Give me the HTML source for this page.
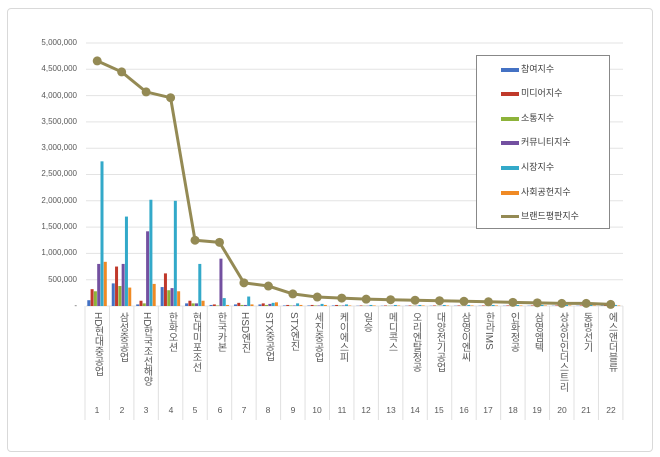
<!DOCTYPE html>
<html><head><meta charset="utf-8"><style>
body{margin:0;width:660px;height:457px;background:#fff;font-family:"Liberation Sans","Noto Sans CJK KR",sans-serif;position:relative;overflow:hidden}
.frame{position:absolute;left:7px;top:8px;width:644px;height:442px;border:1px solid #d9d9d9;border-radius:4px}
.yl{position:absolute;right:583px;font-size:8px;color:#595959;text-align:right;width:70px}
.xl{position:absolute;top:312px;writing-mode:vertical-rl;font-size:10px;color:#595959;line-height:12px;width:12px}
.xn{position:absolute;top:405px;font-size:8.5px;color:#595959;width:24px;text-align:center}
.leg{position:absolute;left:476px;top:55px;width:132px;height:172px;border:1px solid #888;background:#fff}
.li{position:absolute;left:24px;font-size:9px;color:#404040;height:12px;line-height:12px}
.sw{display:inline-block;width:18px;height:4px;vertical-align:middle;margin-right:2px}
</style></head><body>
<div class="frame"></div>
<svg id="s" width="660" height="457" style="position:absolute;left:0;top:0"></svg>
<div class="yl" style="top:38px">5,000,000</div>
<div class="yl" style="top:64px">4,500,000</div>
<div class="yl" style="top:91px">4,000,000</div>
<div class="yl" style="top:117px">3,500,000</div>
<div class="yl" style="top:143px">3,000,000</div>
<div class="yl" style="top:169px">2,500,000</div>
<div class="yl" style="top:196px">2,000,000</div>
<div class="yl" style="top:222px">1,500,000</div>
<div class="yl" style="top:248px">1,000,000</div>
<div class="yl" style="top:275px">500,000</div>
<div class="yl" style="top:301px">-</div>
<div class="xl" style="left:91px">HD현대중공업</div>
<div class="xl" style="left:116px">삼성중공업</div>
<div class="xl" style="left:140px">HD한국조선해양</div>
<div class="xl" style="left:165px">한화오션</div>
<div class="xl" style="left:189px">현대미포조선</div>
<div class="xl" style="left:214px">한국카본</div>
<div class="xl" style="left:238px">HSD엔진</div>
<div class="xl" style="left:262px">STX중공업</div>
<div class="xl" style="left:287px">STX엔진</div>
<div class="xl" style="left:311px">세진중공업</div>
<div class="xl" style="left:336px">케이에스피</div>
<div class="xl" style="left:360px">일승</div>
<div class="xl" style="left:385px">메디콕스</div>
<div class="xl" style="left:409px">오리엔탈정공</div>
<div class="xl" style="left:433px">대양전기공업</div>
<div class="xl" style="left:458px">삼영이엔씨</div>
<div class="xl" style="left:482px">한라IMS</div>
<div class="xl" style="left:507px">인화정공</div>
<div class="xl" style="left:531px">삼영엠텍</div>
<div class="xl" style="left:556px">상상인인더스트리</div>
<div class="xl" style="left:580px">동방선기</div>
<div class="xl" style="left:605px">에스앤더블류</div>
<div class="xn" style="left:85px">1</div><div class="xn" style="left:110px">2</div><div class="xn" style="left:134px">3</div><div class="xn" style="left:159px">4</div><div class="xn" style="left:183px">5</div><div class="xn" style="left:208px">6</div><div class="xn" style="left:232px">7</div><div class="xn" style="left:256px">8</div><div class="xn" style="left:281px">9</div><div class="xn" style="left:305px">10</div><div class="xn" style="left:330px">11</div><div class="xn" style="left:354px">12</div><div class="xn" style="left:379px">13</div><div class="xn" style="left:403px">14</div><div class="xn" style="left:427px">15</div><div class="xn" style="left:452px">16</div><div class="xn" style="left:476px">17</div><div class="xn" style="left:501px">18</div><div class="xn" style="left:525px">19</div><div class="xn" style="left:550px">20</div><div class="xn" style="left:574px">21</div><div class="xn" style="left:599px">22</div>
<div class="leg">
<div class="li" style="top:7px"><span class="sw" style="background:#4472c4"></span>참여지수</div>
<div class="li" style="top:31px"><span class="sw" style="background:#c0392b"></span>미디어지수</div>
<div class="li" style="top:56px"><span class="sw" style="background:#8db33a"></span>소통지수</div>
<div class="li" style="top:80px"><span class="sw" style="background:#7350a0"></span>커뮤니티지수</div>
<div class="li" style="top:105px"><span class="sw" style="background:#33a9c9"></span>시장지수</div>
<div class="li" style="top:130px"><span class="sw" style="background:#f08a24"></span>사회공헌지수</div>
<div class="li" style="top:154px"><span class="sw" style="background:#948a54;height:3px;position:relative"></span>브랜드평판지수</div>
</div>
<script>
var s=document.getElementById('s'),h='';
var y0=306,k=52.6/1e6,L=85,W=24.45;
for(var i=0;i<=10;i++){var y=y0-i*26.3;h+='<line x1="86" x2="623" y1="'+y+'" y2="'+y+'" stroke="#e3e3e3" stroke-width="1"/>';}
for(var i=0;i<=22;i++){var x=L+i*W;h+='<line x1="'+x+'" x2="'+x+'" y1="306" y2="420" stroke="#e0e0e0"/>';}
var c=['#4472c4','#c0392b','#8db33a','#7350a0','#33a9c9','#f08a24'];
var d=[[.11,.32,.28,.8,2.75,.84],[.43,.75,.38,.8,1.7,.35],[.03,.1,.05,1.42,2.02,.42],[.36,.62,.3,.34,2.0,.28],[.05,.1,.05,.05,.8,.1],[.02,.03,.01,.9,.15,.02],[.03,.06,.02,.02,.18,.03],[.03,.05,.02,.04,.06,.07],[.01,.02,.01,.01,.05,.02],[.01,.02,.01,.01,.04,.02],[.01,.02,.01,.01,.03,.01]];
for(var i=0;i<22;i++){var row=d[i]||[.005,.01,.005,.005,.02,.01];for(var j=0;j<6;j++){var hh=row[j]*1e6*k,x=L+i*W+2.3+j*3.3;h+='<rect x="'+x+'" y="'+(y0-hh)+'" width="3" height="'+hh+'" fill="'+c[j]+'"/>';}}
var v=[4.66,4.45,4.07,3.96,1.25,1.21,.44,.38,.23,.17,.15,.13,.12,.11,.10,.09,.08,.07,.06,.05,.05,.03],p=[];
for(var i=0;i<22;i++)p.push((L+(i+.5)*W)+','+(y0-v[i]*1e6*k));
h+='<polyline points="'+p.join(' ')+'" fill="none" stroke="#948a54" stroke-width="3"/>';
p.forEach(function(q){var a=q.split(',');h+='<circle cx="'+a[0]+'" cy="'+a[1]+'" r="4.5" fill="#948a54"/>';});
h+='<line x1="500" x2="518" y1="215" y2="215" stroke="#948a54" stroke-width="3"/><circle cx="509" cy="215" r="2.5" fill="#948a54"/>';
s.innerHTML=h;
</script>
</body></html>
